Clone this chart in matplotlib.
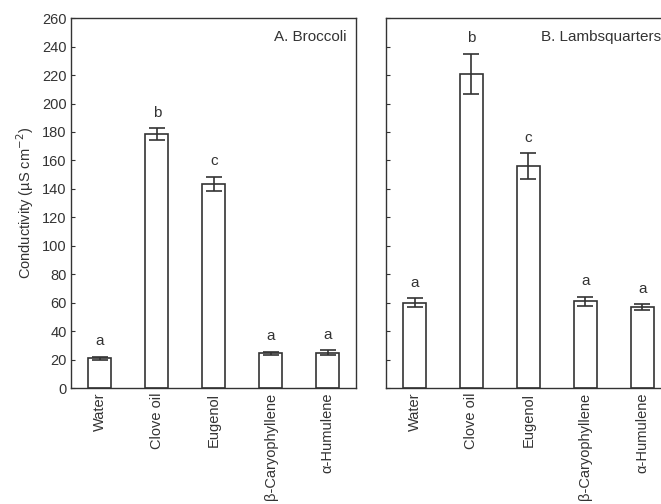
import matplotlib
matplotlib.use("Agg")
import matplotlib.pyplot as plt
import numpy as np

plt.rcParams["font.family"] = ["Liberation Sans", "DejaVu Sans"]
plt.rcParams["font.size"] = 10.5

categories = ["Water", "Clove oil", "Eugenol", "β-Caryophyllene", "α-Humulene"]
broccoli = [21, 178.5, 143.5, 24.5, 25]
broccoli_err = [1, 4, 5, 1, 1.5]
broccoli_letters = ["a", "b", "c", "a", "a"]
lambs = [60, 221, 156, 61, 57]
lambs_err = [3, 14, 9, 3, 2]
lambs_letters = ["a", "b", "c", "a", "a"]

ink = "#333333"
fig = plt.figure(figsize=(6.61, 5.04), dpi=100)
ax1 = fig.add_axes([0.108, 0.230, 0.431, 0.734])
ax2 = fig.add_axes([0.584, 0.230, 0.431, 0.734])

x = np.arange(len(categories))
for ax, vals, errs, letters, title in [
    (ax1, broccoli, broccoli_err, broccoli_letters, "A. Broccoli"),
    (ax2, lambs, lambs_err, lambs_letters, "B. Lambsquarters"),
]:
    ax.bar(x, vals, width=0.4, color="white", edgecolor=ink, linewidth=1.2, zorder=2)
    ax.errorbar(x, vals, yerr=errs, fmt="none", ecolor=ink, elinewidth=1.2, capsize=6, capthick=1.2, zorder=3)
    for xi, v, e, l in zip(x, vals, errs, letters):
        ax.text(xi, v + e + 6, l, ha="center", va="bottom", color=ink, fontsize=11)
    ax.set_xlim(-0.5, 4.5)
    ax.set_ylim(0, 260)
    ax.set_yticks(np.arange(0, 261, 20))
    ax.set_xticks(x)
    ax.set_xticklabels(categories, rotation=90, color=ink)
    ax.tick_params(direction="in", length=3, color=ink, labelcolor=ink)
    for s in ax.spines.values():
        s.set_color(ink)
        s.set_linewidth(1.0)
    ax.text(0.965, 0.968, title, transform=ax.transAxes, ha="right", va="top", color=ink, fontsize=11)

ax2.set_yticklabels([])
ax1.set_ylabel("Conductivity (µS cm$^{-2}$)", color=ink)

fig.savefig("out.png", dpi=100)
